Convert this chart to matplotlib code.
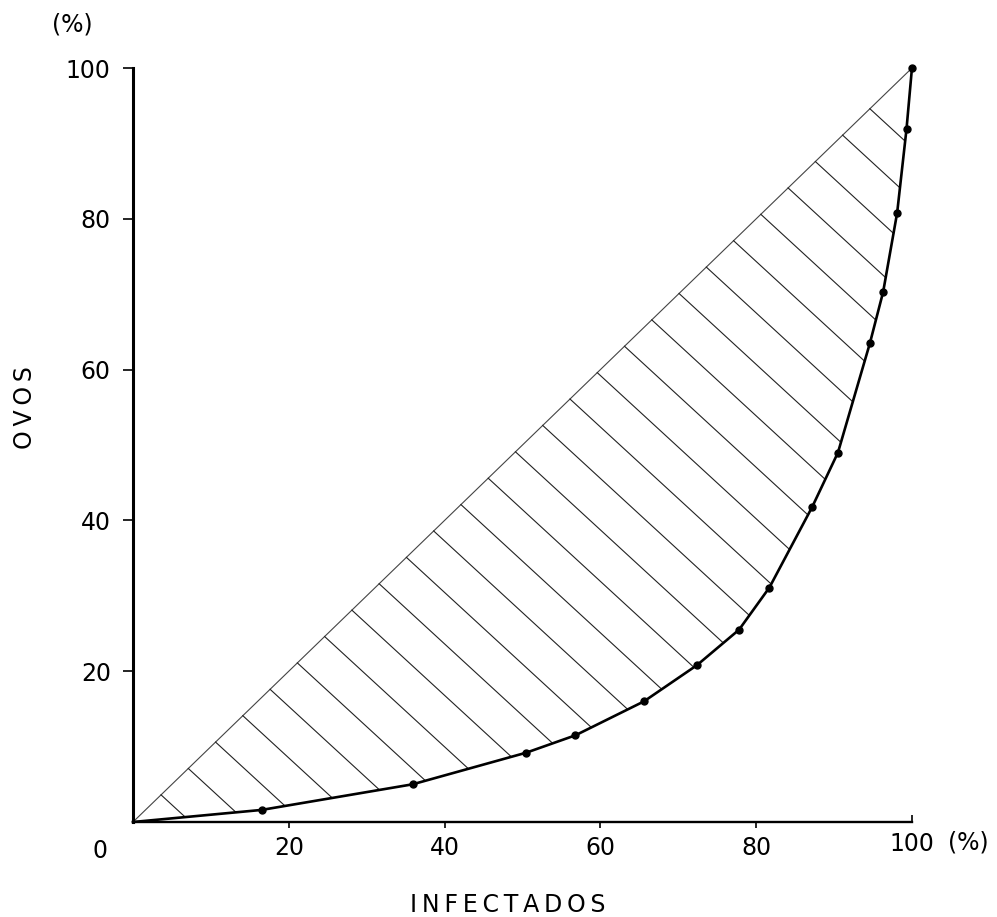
import numpy as np
import matplotlib
matplotlib.use('Agg')
import matplotlib.pyplot as plt

# cumulative % of infected (x) vs cumulative % of eggs (y)
infectados = [0, 16.5, 35.9, 50.5, 56.8, 65.6, 72.4, 77.8, 81.7, 87.2, 90.5, 94.6, 96.3, 98.1, 99.3, 100]
ovos = [0, 1.6, 5.0, 9.2, 11.5, 16.0, 20.8, 25.5, 31.1, 41.8, 49.0, 63.5, 70.3, 80.8, 91.9, 100]

xticks = [20, 40, 60, 80, 100]
yticks = [20, 40, 60, 80, 100]

plt.rcParams['font.family'] = ['DejaVu Sans']

fig = plt.figure(figsize=(9.97, 9.17), dpi=100)
ax = fig.add_axes([0.1334, 0.1036, 0.7813, 0.8222])

cx = np.array(infectados, dtype=float)
cy = np.array(ovos, dtype=float)

#equality line
ax.plot([0, 100], [0, 100], color='#444444', lw=0.8, clip_on=False)

#hatching between equality line and curve
k = 0.95
for s in np.arange(3.6, 97.5, 3.5):
    xs = np.linspace(s, 100, 4000)
    f = s - k*(xs - s) - np.interp(xs, cx, cy)
    idx = np.argmax(f <= 0)
    xe = xs[idx]
    ax.plot([s, xe], [s, s - k*(xe - s)], color='#222222', lw=0.8)

#curve with points
ax.plot(cx, cy, color='black', lw=1.9, clip_on=False)
ax.plot(cx[1:], cy[1:], 'o', color='black', ms=5, clip_on=False)

ax.set_xlim(0, 100)
ax.set_ylim(0, 100)
ax.spines['top'].set_visible(False)
ax.spines['right'].set_visible(False)
ax.spines['left'].set_linewidth(2.2)
ax.spines['bottom'].set_linewidth(1.7)

ax.set_xticks(xticks[:-1])
ax.set_xticklabels([str(v) for v in xticks[:-1]])
ax.set_xticks([100], minor=True)
ax.set_xticklabels(['100'], minor=True)
ax.set_yticks(yticks)
ax.set_yticklabels([str(v) for v in yticks])
ax.tick_params(axis='x', which='major', direction='out', length=4, width=1.2, pad=6, labelsize=17)
ax.tick_params(axis='x', which='minor', direction='in', length=5, width=1.2, pad=7, labelsize=17)
ax.tick_params(axis='y', direction='out', length=7, width=1.2, pad=9, labelsize=17)

sp = '\u2009'
ax.text(-4.2, -3.8, '0', ha='center', va='center', fontsize=17)
fig.text(0.971, 0.081, '(%)', ha='center', va='center', fontsize=17)
fig.text(0.073, 0.973, '(%)', ha='center', va='center', fontsize=17)
fig.text(0.5095, 0.013, sp.join('INFECTADOS'), ha='center', va='center', fontsize=17)
fig.text(0.025, 0.556, sp.join('OVOS'), ha='center', va='center', rotation=90, fontsize=17)

fig.savefig('out.png', dpi=100)
print('wrote out.png')
